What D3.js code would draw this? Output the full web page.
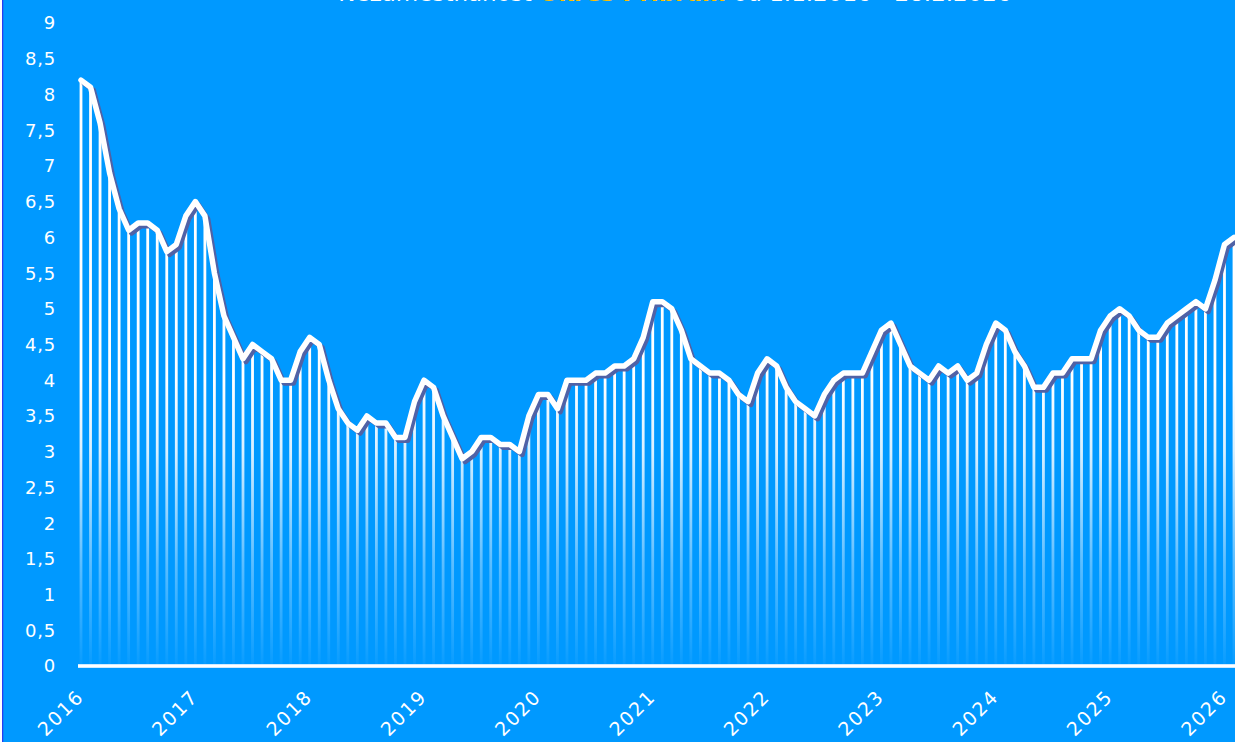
<!DOCTYPE html>
<html lang="cs">
<head>
  <meta charset="UTF-8">
  <title>Nezaměstnanost Okres Příbram</title>
  <style>
    body, html {
      margin: 0;
      padding: 0;
      background: #ffffff;
      overflow: hidden;
    }
    #svg {
      position: absolute;
      left: 2px;
      top: 0;
      display: block;
    }
  </style>
</head>
<body>
  <svg id="svg" width="1233" height="742"></svg>
  <script src="https://d3js.org/d3.v7.min.js"></script>
  <script>
    // monthly unemployment rate (%), Jan 2016 - Feb 2026
    const values = [
      8.2, 8.1, 7.6, 6.9, 6.4, 6.1, 6.2, 6.2, 6.1, 5.8, 5.9, 6.3, // 2016
      6.5, 6.3, 5.5, 4.9, 4.6, 4.3, 4.5, 4.4, 4.3, 4.0, 4.0, 4.4, // 2017
      4.6, 4.5, 4.0, 3.6, 3.4, 3.3, 3.5, 3.4, 3.4, 3.2, 3.2, 3.7, // 2018
      4.0, 3.9, 3.5, 3.2, 2.9, 3.0, 3.2, 3.2, 3.1, 3.1, 3.0, 3.5, // 2019
      3.8, 3.8, 3.6, 4.0, 4.0, 4.0, 4.1, 4.1, 4.2, 4.2, 4.3, 4.6, // 2020
      5.1, 5.1, 5.0, 4.7, 4.3, 4.2, 4.1, 4.1, 4.0, 3.8, 3.7, 4.1, // 2021
      4.3, 4.2, 3.9, 3.7, 3.6, 3.5, 3.8, 4.0, 4.1, 4.1, 4.1, 4.4, // 2022
      4.7, 4.8, 4.5, 4.2, 4.1, 4.0, 4.2, 4.1, 4.2, 4.0, 4.1, 4.5, // 2023
      4.8, 4.7, 4.4, 4.2, 3.9, 3.9, 4.1, 4.1, 4.3, 4.3, 4.3, 4.7, // 2024
      4.9, 5.0, 4.9, 4.7, 4.6, 4.6, 4.8, 4.9, 5.0, 5.1, 5.0, 5.4, // 2025
      5.9, 6.0                                                    // 2026
    ]
    const years = ['2016', '2017', '2018', '2019', '2020', '2021', '2022', '2023', '2024', '2025', '2026']
    const yTicks = [0, 0.5, 1, 1.5, 2, 2.5, 3, 3.5, 4, 4.5, 5, 5.5, 6, 6.5, 7, 7.5, 8, 8.5, 9]

    const width = 1233
    const height = 742
    const dx = -2 // svg is shifted 2px right on the page

    const svg = d3.select('#svg')

    // background + left border
    svg.append('rect')
      .attr('width', width).attr('height', height)
      .attr('fill', '#0099ff')
    svg.append('line')
      .attr('x1', 0.5).attr('x2', 0.5).attr('y1', 0).attr('y2', height)
      .attr('stroke', '#2a3cf0').attr('stroke-width', 1.5)

    const x = d3.scaleLinear()
      .domain([0, values.length - 1])
      .range([81 + dx, 1234 + dx])

    const y = d3.scaleLinear()
      .domain([0, 9])
      .range([666, 23])

    // gradient for the vertical bars (fade out towards zero)
    const defs = svg.append('defs')
    const grad = defs.append('linearGradient')
      .attr('id', 'barGrad')
      .attr('gradientUnits', 'userSpaceOnUse')
      .attr('x1', 0).attr('x2', 0)
      .attr('y1', y(0)).attr('y2', y(4))
    grad.append('stop').attr('offset', '0%').attr('stop-color', '#ffffff').attr('stop-opacity', 0.03)
    grad.append('stop').attr('offset', '35%').attr('stop-color', '#ffffff').attr('stop-opacity', 0.35)
    grad.append('stop').attr('offset', '75%').attr('stop-color', '#ffffff').attr('stop-opacity', 0.85)
    grad.append('stop').attr('offset', '100%').attr('stop-color', '#ffffff').attr('stop-opacity', 1)

    // y labels
    svg.append('g')
      .selectAll('text')
      .data(yTicks)
      .join('text')
      .attr('x', 56 + dx)
      .attr('y', d => y(d))
      .attr('dy', '0.36em')
      .attr('text-anchor', 'end')
      .attr('font-family', 'DejaVu Sans, Verdana, sans-serif')
      .attr('font-size', 18)
      .attr('letter-spacing', 0.8)
      .attr('fill', '#ffffff')
      .text(d => String(d).replace('.', ','))

    // bars
    svg.append('g')
      .selectAll('rect')
      .data(values)
      .join('rect')
      .attr('x', (d, i) => x(i) - 1.4)
      .attr('width', 2.8)
      .attr('y', d => y(d))
      .attr('height', d => y(0) - y(d))
      .attr('fill', 'url(#barGrad)')

    // x axis line
    svg.append('line')
      .attr('x1', 78 + dx).attr('x2', width)
      .attr('y1', y(0)).attr('y2', y(0))
      .attr('stroke', '#cfeaff').attr('stroke-width', 4)
    svg.append('line')
      .attr('x1', 78 + dx).attr('x2', width)
      .attr('y1', y(0)).attr('y2', y(0))
      .attr('stroke', '#ffffff').attr('stroke-width', 2.2)

    // year labels
    svg.append('g')
      .selectAll('text')
      .data(years)
      .join('text')
      .attr('transform', (d, i) => `translate(${x(i * 12) + 4}, ${y(0) + 32}) rotate(-45)`)
      .attr('text-anchor', 'end')
      .attr('font-family', 'DejaVu Sans, Verdana, sans-serif')
      .attr('font-size', 19)
      .attr('letter-spacing', 1.8)
      .attr('fill', '#ffffff')
      .text(d => d)

    // line with shadow
    const line = d3.line()
      .x((d, i) => x(i))
      .y(d => y(d))

    svg.append('path')
      .datum(values)
      .attr('d', line)
      .attr('transform', 'translate(3, 3)')
      .attr('fill', 'none')
      .attr('stroke', '#5062a6')
      .attr('stroke-width', 5)
      .attr('stroke-linejoin', 'round')
      .attr('stroke-linecap', 'round')

    svg.append('path')
      .datum(values)
      .attr('d', line)
      .attr('fill', 'none')
      .attr('stroke', '#ffffff')
      .attr('stroke-width', 5.5)
      .attr('stroke-linejoin', 'round')
      .attr('stroke-linecap', 'round')

    // title (cut off at the top edge, as in the source picture)
    const title = svg.append('text')
      .attr('x', 675 + dx)
      .attr('y', 1)
      .attr('text-anchor', 'middle')
      .attr('font-family', 'DejaVu Sans, Verdana, sans-serif')
      .attr('font-size', 23)
      .attr('fill', '#ffffff')
    title.append('tspan').text('Nezaměstnanost ')
    title.append('tspan').attr('fill', '#ffc000').attr('font-weight', 'bold').text('Okres Příbram')
    title.append('tspan').text(' od 1.1.2016 - 28.2.2026')
  </script>
</body>
</html>
